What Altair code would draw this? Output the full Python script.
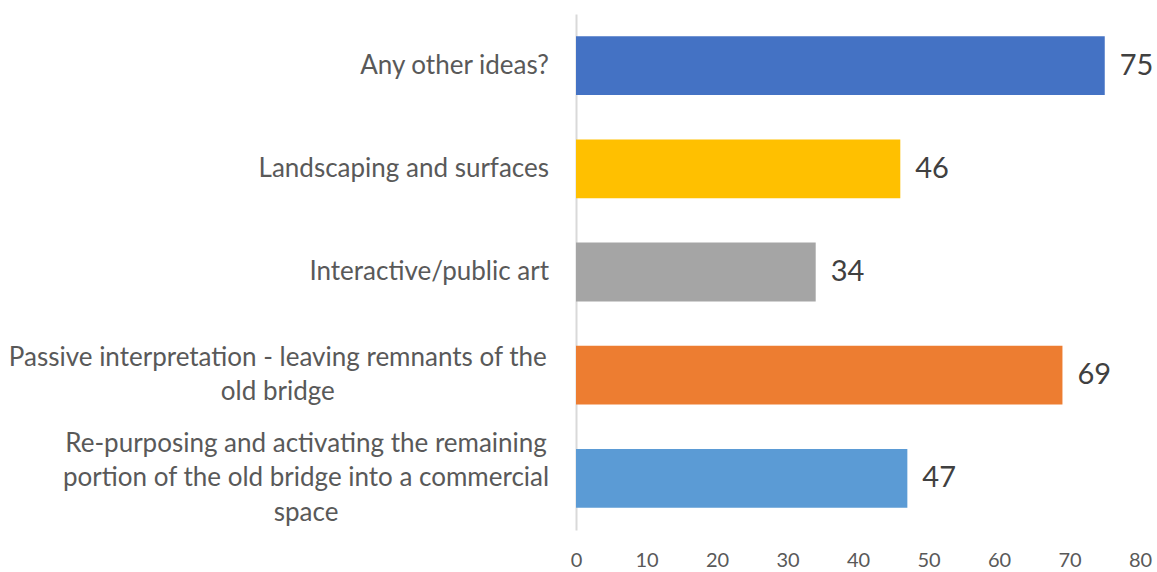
import altair as alt
import pandas as pd

categories = [
    "Any other ideas?",
    "Landscaping and surfaces",
    "Interactive/public art",
    "Passive interpretation - leaving remnants of the old bridge",
    "Re-purposing and activating the remaining portion of the old bridge into a commercial space",
]
label_lines = [
    ["Any other ideas?"],
    ["Landscaping and surfaces"],
    ["Interactive/public art"],
    ["Passive interpretation - leaving remnants of the", "old bridge"],
    ["Re-purposing and activating the remaining", "portion of the old bridge into a commercial", "space"],
]
values = [75, 46, 34, 69, 47]
colors = ["#4472C4", "#FFC000", "#A5A5A5", "#ED7D31", "#5B9BD5"]
x_ticks = [0, 10, 20, 30, 40, 50, 60, 70, 80]

FONT = "Lato"
LABEL_SIZE = 26
LINE_H = 34.5
CHAR_W = 11.3
LABEL_GAP = 27

df = pd.DataFrame({
    "category": categories,
    "value": values,
    "label": ["\n".join(l) for l in label_lines],
    "nlines": [len(l) for l in label_lines],
})

y_enc = alt.Y(
    "category:N",
    sort=categories,
    scale=alt.Scale(paddingInner=0.43, paddingOuter=0.215),
    axis=alt.Axis(labels=False, ticks=False, title=None, domainColor="#D9D9D9", domainWidth=2),
)

base = alt.Chart(df)

bars = base.mark_bar().encode(
    y=y_enc,
    x=alt.X(
        "value:Q",
        scale=alt.Scale(domain=[0, 80], nice=False),
        axis=alt.Axis(
            values=x_ticks, title=None, grid=False, domain=False, ticks=False, tickSize=0,
            labelFlush=False, labelFont=FONT, labelFontSize=20, labelColor="#595959",
            labelPadding=20,
        ),
    ),
    color=alt.Color("category:N", scale=alt.Scale(domain=categories, range=colors), legend=None),
)

value_text = base.mark_text(
    align="left", baseline="middle", dx=15, font=FONT, fontSize=29, color="#404040"
).encode(y=alt.Y("category:N", sort=categories), x="value:Q", text="value:Q")

layers = [bars, value_text]

single = base.transform_filter("datum.nlines == 1").mark_text(
    align="right", baseline="middle", font=FONT, fontSize=LABEL_SIZE, color="#595959"
).encode(y=alt.Y("category:N", sort=categories), x=alt.value(-LABEL_GAP), text="label:N")
layers.append(single)

for cat, lines in zip(categories, label_lines):
    if len(lines) > 1:
        widest = max(len(s) for s in lines)
        cx = -LABEL_GAP - widest * CHAR_W / 2
        layers.append(
            base.transform_filter(alt.datum.category == cat).mark_text(
                align="center", baseline="middle", font=FONT, fontSize=LABEL_SIZE,
                color="#595959", lineBreak="\n", lineHeight=LINE_H,
                dy=-(len(lines) - 1) * LINE_H / 2,
            ).encode(y=alt.Y("category:N", sort=categories), x=alt.value(cx), text="label:N")
        )

chart = alt.layer(*layers).properties(
    width=564,
    height=516,
    background="white",
    autosize=alt.AutoSizeParams(type="none"),
    padding={"left": 576, "top": 14, "right": 17, "bottom": 42},
).configure_view(stroke=None)

chart.save("out.html", embed_options={"renderer": "svg", "actions": False})
